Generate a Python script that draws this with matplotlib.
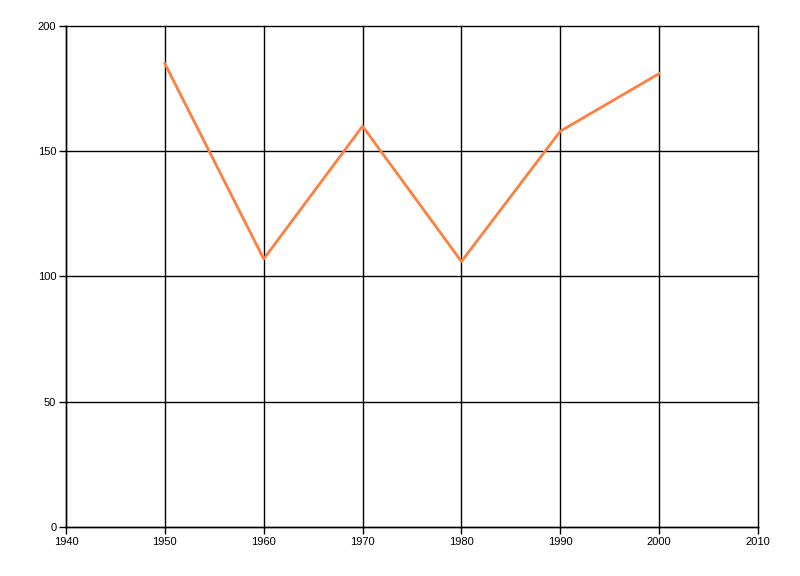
import matplotlib
matplotlib.use("Agg")
import matplotlib.pyplot as plt

years = [1950, 1960, 1970, 1980, 1990, 2000]
values = [185, 107, 160, 106, 158, 181]

x_ticks = [1940, 1950, 1960, 1970, 1980, 1990, 2000, 2010]
y_ticks = [0, 50, 100, 150, 200]

line_color = "#ff7f3f"

fig = plt.figure(figsize=(8, 5.76), dpi=100)
ax = fig.add_axes([0.0825, 0.0851, 0.865, 0.8698])

ax.plot(years, values, color=line_color, linewidth=2, zorder=3)

ax.set_xlim(1940, 2010)
ax.set_ylim(0, 200)
ax.set_xticks(x_ticks)
ax.set_yticks(y_ticks)
ax.grid(True, color="black", linewidth=1)
ax.set_axisbelow(True)
# keep edge gridlines (2010, 200) fully drawn
for gl in ax.get_xgridlines() + ax.get_ygridlines():
    gl.set_clip_on(False)

for side in ["top", "right"]:
    ax.spines[side].set_visible(False)
for side in ["left", "bottom"]:
    ax.spines[side].set_linewidth(1)

ax.tick_params(axis="both", direction="out", length=5, width=1, labelsize=8,
               colors="black", pad=2)
for lbl in ax.get_xticklabels() + ax.get_yticklabels():
    lbl.set_family("Liberation Sans")

fig.savefig("out.png", dpi=100)
